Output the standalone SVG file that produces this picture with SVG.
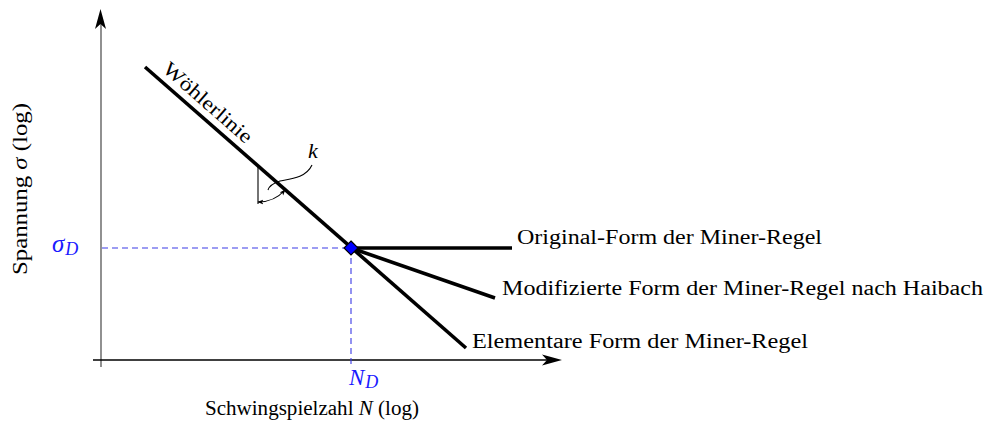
<svg xmlns="http://www.w3.org/2000/svg" width="988" height="423" viewBox="0 0 988 423">
<defs>
<style>
.t{font-family:"Liberation Serif","Times New Roman",serif;font-size:20px;fill:#000}
.it{font-style:italic}
.blue{fill:#1a1aff}
.dash{stroke:#3a3ae6;stroke-width:1.1;stroke-dasharray:6 4;fill:none}
.thick{stroke:#000;stroke-width:3.6;fill:none;stroke-linecap:butt}
</style>
<marker id="sa" viewBox="0 0 10 10" refX="9" refY="5" markerWidth="6" markerHeight="6" orient="auto-start-reverse" markerUnits="userSpaceOnUse">
<path d="M0,1 L10,5 L0,9 L2.5,5 Z" fill="#000"/>
</marker>
</defs>
<rect width="988" height="423" fill="#fff"/>
<g id="axes">
<line x1="101" y1="367" x2="101" y2="24" stroke="#555" stroke-width="1.3"/>
<path d="M100.5,9 L106,29 L100.5,24 L95,29 Z" fill="#000"/>
<line x1="93" y1="360" x2="549" y2="360" stroke="#000" stroke-width="1.3"/>
<path d="M562,360 L542,354.5 L547,360 L542,365.5 Z" fill="#000"/>
</g>
<g id="connectors">
<line class="dash" x1="102" y1="248" x2="351" y2="248"/>
<line class="dash" x1="351" y1="248" x2="351" y2="365"/>
<line class="thick" x1="145" y1="67" x2="466" y2="348"/>
<line class="thick" x1="351" y1="248" x2="512" y2="248"/>
<line class="thick" x1="351" y1="248" x2="495" y2="298"/>
<line x1="258" y1="166" x2="258" y2="204" stroke="#000" stroke-width="1.1"/>
<path d="M258,202 A36,36 0 0 0 285,190" fill="none" stroke="#000" stroke-width="1.1" marker-start="url(#sa)" marker-end="url(#sa)"/>
<path d="M312,165 C306,178 290,179 280,181 C274,183 269,186 268,190" fill="none" stroke="#000" stroke-width="1.1"/>
</g>
<g id="node-nd">
<path d="M351,241 L358,248 L351,255 L344,248 Z" fill="#0000ff" stroke="#000" stroke-width="1.2"/>
</g>
<g id="label-woehler">
<text class="t" transform="translate(203.5,107.5) rotate(41.3)" text-anchor="middle" textLength="112" lengthAdjust="spacingAndGlyphs">Wöhlerlinie</text>
</g>
<g id="label-k">
<text class="t it" x="308" y="158" style="font-size:22px">k</text>
</g>
<g id="label-original">
<text class="t" x="517" y="244" textLength="305" lengthAdjust="spacingAndGlyphs">Original-Form der Miner-Regel</text>
</g>
<g id="label-modified">
<text class="t" x="502" y="295" textLength="481" lengthAdjust="spacingAndGlyphs">Modifizierte Form der Miner-Regel nach Haibach</text>
</g>
<g id="label-elementar">
<text class="t" x="472" y="348" textLength="336" lengthAdjust="spacingAndGlyphs">Elementare Form der Miner-Regel</text>
</g>
<g id="label-sigmad">
<text class="t it blue" x="52" y="252" style="font-size:25px">σ<tspan style="font-size:18px" dx="1" dy="3">D</tspan></text>
</g>
<g id="label-nd">
<text class="t it blue" x="349" y="385" style="font-size:23px">N<tspan style="font-size:18px" dx="1" dy="3">D</tspan></text>
</g>
<g id="label-xaxis">
<text class="t" x="205" y="415" textLength="214" lengthAdjust="spacingAndGlyphs">Schwingspielzahl <tspan class="it">N</tspan> (log)</text>
</g>
<g id="label-yaxis">
<text class="t" transform="translate(27,275) rotate(-90)" textLength="172" lengthAdjust="spacingAndGlyphs">Spannung <tspan class="it">σ</tspan> (log)</text>
</g>
</svg>
